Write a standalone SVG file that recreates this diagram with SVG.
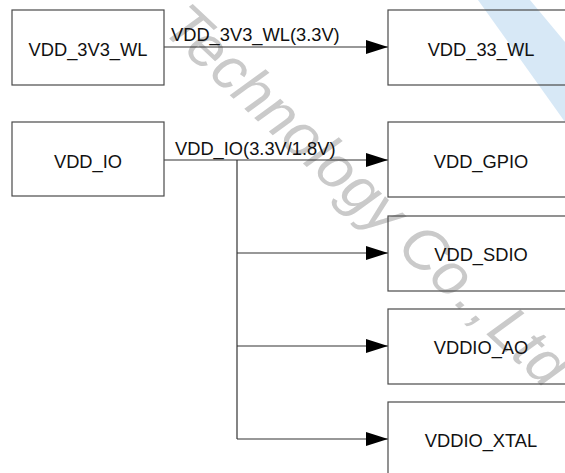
<svg xmlns="http://www.w3.org/2000/svg" width="565" height="473" viewBox="0 0 565 473">
<defs>
<style>
.box{fill:none;stroke:#4a4a4a;stroke-width:1.2}
.t{font-family:"Liberation Sans",Arial,sans-serif;font-size:18.3px;fill:#111}
.c{text-anchor:middle}
.ln{fill:none;stroke:#333;stroke-width:1.2}
.wm{font-family:"Liberation Sans",Arial,sans-serif;font-style:italic;font-size:60px;fill:#cacaca}
</style>
<marker id="ah" markerWidth="22" markerHeight="14" refX="22" refY="7" orient="auto" markerUnits="userSpaceOnUse">
<path d="M0,0 L22,7 L0,14 Z" fill="#000"/>
</marker>
</defs>
<rect width="565" height="473" fill="#fff"/>
<g id="watermark">
<polygon points="478,0 530,0 565,42 565,122" fill="#d7e8f6"/>
<text class="wm" x="160" y="30" transform="rotate(43 160 30)">Technology Co<tspan dx="3">.</tspan><tspan dx="4">,</tspan><tspan dx="6">Ltd</tspan></text>
</g>
<g id="connectors">
<line class="ln" x1="164" y1="47" x2="388" y2="47" marker-end="url(#ah)"/>
<line class="ln" x1="164" y1="160" x2="388" y2="160" marker-end="url(#ah)"/>
<polyline class="ln" points="237,160 237,439"/>
<line class="ln" x1="237" y1="253" x2="388" y2="253" marker-end="url(#ah)"/>
<line class="ln" x1="237" y1="346" x2="388" y2="346" marker-end="url(#ah)"/>
<line class="ln" x1="237" y1="439" x2="388" y2="439" marker-end="url(#ah)"/>
<text class="t" x="171" y="41">VDD_3V3_WL(3.3V)</text>
<text class="t" x="175" y="155">VDD_IO(3.3V/1.8V)</text>
</g>
<g id="VDD_3V3_WL"><rect class="box" x="12" y="10" width="152" height="75"/><text class="t c" x="88" y="56">VDD_3V3_WL</text></g>
<g id="VDD_IO"><rect class="box" x="12" y="122" width="152" height="74"/><text class="t c" x="88" y="168">VDD_IO</text></g>
<g id="VDD_33_WL"><rect class="box" x="388" y="10" width="186" height="75"/><text class="t c" x="481" y="56">VDD_33_WL</text></g>
<g id="VDD_GPIO"><rect class="box" x="388" y="122" width="186" height="75"/><text class="t c" x="481" y="168">VDD_GPIO</text></g>
<g id="VDD_SDIO"><rect class="box" x="388" y="216" width="186" height="75"/><text class="t c" x="481" y="261">VDD_SDIO</text></g>
<g id="VDDIO_AO"><rect class="box" x="388" y="309" width="186" height="75"/><text class="t c" x="481" y="354">VDDIO_AO</text></g>
<g id="VDDIO_XTAL"><rect class="box" x="388" y="402" width="186" height="75"/><text class="t c" x="481" y="447">VDDIO_XTAL</text></g>
</svg>
